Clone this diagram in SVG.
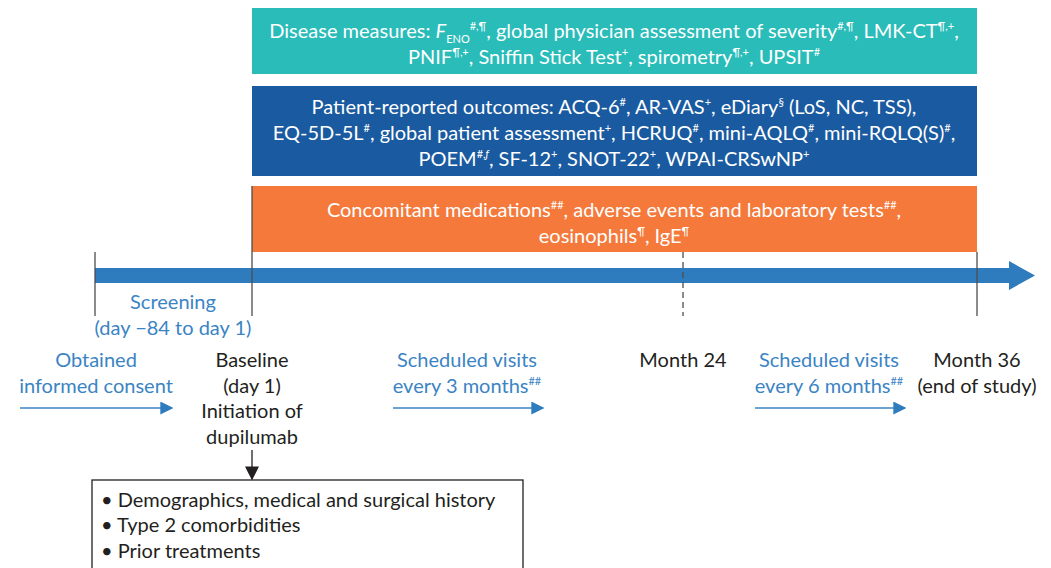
<svg xmlns="http://www.w3.org/2000/svg" width="1051" height="568" viewBox="0 0 1051 568">
  <defs>
    <style>
      text { font-family: Lato, "Liberation Sans", sans-serif; font-size: 20px; }
      .w { fill: #ffffff; text-anchor: middle; }
      .k { fill: #231f20; text-anchor: middle; }
      .b { fill: #3b84c4; text-anchor: middle; }
      .bl { fill: #231f20; text-anchor: start; }
      .sup { font-size: 11px; }
      .tick { stroke: #4d4d4d; stroke-width: 1.3; fill: none; }
      .dash { stroke: #4d4d4d; stroke-width: 1.3; stroke-dasharray: 6 4; fill: none; }
      .visit { stroke: #3b84c4; stroke-width: 1.6; fill: none; marker-end: url(#blueHead); }
    </style>
    <marker id="blueHead" viewBox="0 0 10 10" refX="9" refY="5" markerUnits="userSpaceOnUse" markerWidth="13" markerHeight="13" orient="auto">
      <path d="M0,0 L10,5 L0,10 Z" fill="#2e7bbd"/>
    </marker>
    <marker id="blackHead" viewBox="0 0 10 10" refX="9" refY="5" markerUnits="userSpaceOnUse" markerWidth="14" markerHeight="14" orient="auto">
      <path d="M0,0 L10,5 L0,10 Z" fill="#231f20"/>
    </marker>
  </defs>
  <rect width="1051" height="568" fill="#ffffff"/>

  <!-- Assessment bands -->
  <g id="disease-measures">
    <rect x="252" y="8" width="725" height="66" fill="#29bcb9"/>
    <text class="w" x="614" y="38">Disease measures: <tspan font-style="italic">F</tspan><tspan class="sup" dy="5">ENO</tspan><tspan class="sup" dy="-13">#,¶</tspan><tspan dy="8">, global physician assessment of severity</tspan><tspan class="sup" dy="-8">#,¶</tspan><tspan dy="8">, LMK-CT</tspan><tspan class="sup" dy="-8">¶,+</tspan><tspan dy="8">,</tspan></text>
    <text class="w" x="614" y="64">PNIF<tspan class="sup" dy="-8">¶,+</tspan><tspan dy="8">, Sniffin Stick Test</tspan><tspan class="sup" dy="-8">+</tspan><tspan dy="8">, spirometry</tspan><tspan class="sup" dy="-8">¶,+</tspan><tspan dy="8">, UPSIT</tspan><tspan class="sup" dy="-8">#</tspan></text>
  </g>

  <g id="patient-reported-outcomes">
    <rect x="252" y="86" width="725" height="90" fill="#1a5aa0"/>
    <text class="w" x="614" y="114">Patient-reported outcomes: ACQ-6<tspan class="sup" dy="-8">#</tspan><tspan dy="8">, AR-VAS</tspan><tspan class="sup" dy="-8">+</tspan><tspan dy="8">, eDiary</tspan><tspan class="sup" dy="-8">§</tspan><tspan dy="8"> (LoS, NC, TSS),</tspan></text>
    <text class="w" x="614" y="140">EQ-5D-5L<tspan class="sup" dy="-8">#</tspan><tspan dy="8">, global patient assessment</tspan><tspan class="sup" dy="-8">+</tspan><tspan dy="8">, HCRUQ</tspan><tspan class="sup" dy="-8">#</tspan><tspan dy="8">, mini-AQLQ</tspan><tspan class="sup" dy="-8">#</tspan><tspan dy="8">, mini-RQLQ(S)</tspan><tspan class="sup" dy="-8">#</tspan><tspan dy="8">,</tspan></text>
    <text class="w" x="614" y="166">POEM<tspan class="sup" dy="-8">#,<tspan font-style="italic">ƒ</tspan></tspan><tspan dy="8">, SF-12</tspan><tspan class="sup" dy="-8">+</tspan><tspan dy="8">, SNOT-22</tspan><tspan class="sup" dy="-8">+</tspan><tspan dy="8">, WPAI-CRSwNP</tspan><tspan class="sup" dy="-8">+</tspan></text>
  </g>

  <g id="safety-measures">
    <rect x="252" y="186" width="725" height="66" fill="#f4793b"/>
    <text class="w" x="614" y="217">Concomitant medications<tspan class="sup" dy="-8">##</tspan><tspan dy="8">, adverse events and laboratory tests</tspan><tspan class="sup" dy="-8">##</tspan><tspan dy="8">,</tspan></text>
    <text class="w" x="614" y="243">eosinophils<tspan class="sup" dy="-8">¶</tspan><tspan dy="8">, IgE</tspan><tspan class="sup" dy="-8">¶</tspan></text>
  </g>

  <!-- Timeline -->
  <g id="timeline">
    <path d="M95,268 H1009 V261 L1035,275.5 L1009,290 V283 H95 Z" fill="#2e7bbd"/>
    <line class="tick" x1="95" y1="252" x2="95" y2="316"/>
    <line class="tick" x1="252" y1="186" x2="252" y2="316"/>
    <line class="dash" x1="683" y1="252" x2="683" y2="316"/>
    <line class="tick" x1="977" y1="252" x2="977" y2="316"/>
  </g>

  <g id="screening">
    <text class="b" x="173" y="309">Screening</text>
    <text class="b" x="173" y="335">(day −84 to day 1)</text>
  </g>

  <g id="consent">
    <text class="b" x="96" y="367">Obtained</text>
    <text class="b" x="96" y="393">informed consent</text>
  </g>

  <g id="baseline">
    <text class="k" x="252" y="367">Baseline</text>
    <text class="k" x="252" y="393">(day 1)</text>
    <text class="k" x="252" y="418">Initiation of</text>
    <text class="k" x="252" y="444">dupilumab</text>
  </g>

  <g id="visits-3m">
    <text class="b" x="467" y="367">Scheduled visits</text>
    <text class="b" x="467" y="393">every 3 months<tspan class="sup" dy="-8">##</tspan></text>
  </g>

  <g id="month-24">
    <text class="k" x="683" y="367">Month 24</text>
  </g>

  <g id="visits-6m">
    <text class="b" x="829" y="367">Scheduled visits</text>
    <text class="b" x="829" y="393">every 6 months<tspan class="sup" dy="-8">##</tspan></text>
  </g>

  <g id="month-36">
    <text class="k" x="977" y="367">Month 36</text>
    <text class="k" x="977" y="393">(end of study)</text>
  </g>

  <g id="baseline-data">
    <rect x="92" y="480" width="431" height="100" fill="#ffffff" stroke="#231f20" stroke-width="1.3"/>
    <text class="bl" x="101" y="507">• Demographics, medical and surgical history</text>
    <text class="bl" x="101" y="532">• Type 2 comorbidities</text>
    <text class="bl" x="101" y="558">• Prior treatments</text>
  </g>

  <!-- Connectors -->
  <g id="connectors">
    <line class="visit" x1="20" y1="408" x2="172" y2="408"/>
    <line class="visit" x1="393" y1="408" x2="543" y2="408"/>
    <line class="visit" x1="755" y1="408" x2="905" y2="408"/>
    <line x1="252" y1="450" x2="252" y2="479" stroke="#231f20" stroke-width="1.3" marker-end="url(#blackHead)"/>
  </g>
</svg>
